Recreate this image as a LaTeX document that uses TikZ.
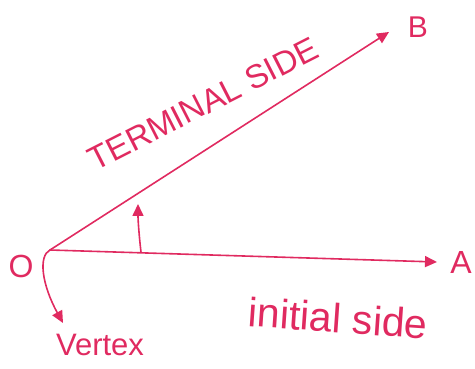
\documentclass[tikz,border=0pt]{standalone}
\usepackage{fontspec}
\setmainfont{Liberation Sans}
\usetikzlibrary{arrows.meta}
\definecolor{ink}{RGB}{224,42,96}
\tikzset{
  ray/.style={draw=ink, line width=1.6pt, line cap=round,
    -{Triangle[length=12pt,width=11pt]}},
  lbl/.style={text=ink, inner sep=0pt},
}
\begin{document}
\begin{tikzpicture}[x=1pt,y=-1pt]
\useasboundingbox (0,0) rectangle (475,369);
\coordinate (O) at (50,250);
\coordinate (Atip) at (437,262);
\coordinate (Btip) at (389,32);
\coordinate (angS) at (141,252);
\coordinate (angT) at (138,204);
\coordinate (vtxT) at (63,323);
% rays
\draw[ray] (O) -- (Atip);
\draw[ray] (O) -- (Btip);
% angle arrow
\draw[ray] (angS) .. controls (139,235) and (138,220) .. (angT);
% vertex pointer
\draw[ray] (O) .. controls (38,256) and (42,285) .. (vtxT);
% labels
\node[lbl, font=\fontsize{32}{32}\selectfont] (lO) at (21,266) {O};
\node[lbl, font=\fontsize{30}{30}\selectfont] (lB) at (418,27) {B};
\node[lbl, font=\fontsize{32}{32}\selectfont] (lA) at (461,262) {A};
\node[lbl, font=\fontsize{33}{33}\selectfont, rotate=27] (lT) at (203,104) {TERMINAL SIDE};
\node[lbl, font=\fontsize{41}{41}\selectfont, rotate=-4] (lI) at (338,318) {initial side};
\node[lbl, font=\fontsize{31}{31}\selectfont] (lV) at (100,345) {Vertex};
\end{tikzpicture}
\end{document}
